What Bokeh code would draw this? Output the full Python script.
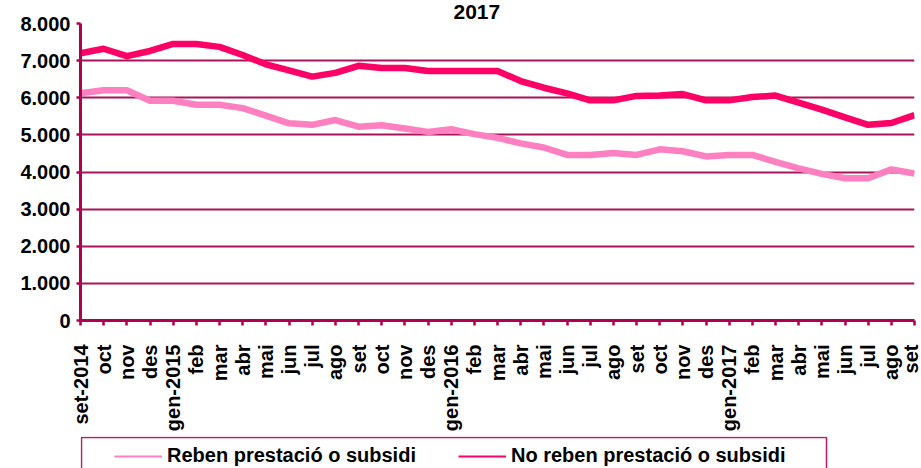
import math
from bokeh.plotting import figure
from bokeh.models import Range1d, FixedTicker, Legend, LegendItem, BoxAnnotation
from bokeh.layouts import column
from bokeh.embed import file_html
from bokeh.resources import INLINE

months = ["set-2014", "oct", "nov", "des", "gen-2015", "feb", "mar", "abr", "mai", "jun", "jul", "ago",
          "set", "oct", "nov", "des", "gen-2016", "feb", "mar", "abr", "mai", "jun", "jul", "ago",
          "set", "oct", "nov", "des", "gen-2017", "feb", "mar", "abr", "mai", "jun", "jul", "ago", "set"]
reben = [6120, 6200, 6200, 5920, 5920, 5810, 5810, 5720, 5520, 5310, 5270, 5400, 5220, 5260, 5170, 5080, 5150,
         5020, 4920, 4770, 4660, 4460, 4460, 4510, 4460, 4610, 4560, 4420, 4460, 4460, 4270, 4100, 3950, 3830,
         3830, 4070, 3960]
no_reben = [7200, 7320, 7120, 7260, 7450, 7450, 7370, 7150, 6900, 6740, 6570, 6670, 6860, 6800, 6800, 6720, 6720,
            6720, 6720, 6450, 6270, 6120, 5930, 5930, 6050, 6060, 6100, 5930, 5930, 6020, 6060, 5870, 5680, 5470,
            5270, 5320, 5530]
y_ticks = [0, 1000, 2000, 3000, 4000, 5000, 6000, 7000, 8000]
y_tick_labels = ["0", "1.000", "2.000", "3.000", "4.000", "5.000", "6.000", "7.000", "8.000"]
series_names = ["Reben prestació o subsidi", "No reben prestació o subsidi"]
title_text = "2017"

FONT = "Liberation Sans"
MAROON = "#B0004F"
GRID = "#A8145A"
LIGHT = "#FF80C0"
DARK = "#FF0066"

x = list(range(len(months)))

p = figure(width=921, height=436, x_range=Range1d(0, len(months) - 1), y_range=Range1d(0, 8000),
           output_backend="svg", toolbar_location=None, title=title_text,
           min_border_left=80, min_border_top=23, min_border_right=7, min_border_bottom=116)
p.outline_line_color = None
p.background_fill_color = "white"
p.border_fill_color = "white"

p.title.text_font = FONT
p.title.text_font_style = "bold"
p.title.text_font_size = "21px"
p.title.text_color = "black"
p.title.standoff = 5
p.title.align = "left"
p.title.offset = 373
p.title.vertical_align = "top"

p.xgrid.visible = False
p.ygrid.ticker = FixedTicker(ticks=y_ticks[1:])
p.ygrid.grid_line_color = GRID
p.ygrid.grid_line_width = 2

for ax in (p.xaxis[0], p.yaxis[0]):
    ax.axis_line_color = MAROON
    ax.axis_line_width = 3
    ax.major_tick_line_color = MAROON
    ax.major_tick_line_width = 2.5
    ax.major_tick_in = 0
    ax.minor_tick_line_color = None
    ax.major_label_text_font = FONT
    ax.major_label_text_font_style = "bold"
    ax.major_label_text_font_size = "20px"
    ax.major_label_text_color = "black"

p.xaxis.ticker = FixedTicker(ticks=x)
p.xaxis.major_label_overrides = {i: m for i, m in enumerate(months)}
p.xaxis.major_label_orientation = math.pi / 2
p.xaxis.major_tick_out = 5
p.xaxis.major_label_standoff = 19

p.yaxis.ticker = FixedTicker(ticks=y_ticks)
p.yaxis.major_label_overrides = {t: l for t, l in zip(y_ticks, y_tick_labels)}
p.yaxis.major_tick_out = 4
p.yaxis.major_label_standoff = 6

p.line(x, reben, line_color=LIGHT, line_width=6.5, line_join="round")
p.line(x, no_reben, line_color=DARK, line_width=6.5, line_join="round")

# legend strip below the chart; its frame is aligned with the main frame (page x 80..914),
# so 1 data unit = 1 px here
lf = figure(width=921, height=32, x_range=Range1d(80, 914), y_range=Range1d(0, 32),
            output_backend="svg", toolbar_location=None, x_axis_location=None, y_axis_location=None,
            min_border_left=80, min_border_right=7, min_border_top=0, min_border_bottom=0)
lf.outline_line_color = None
lf.grid.visible = False
lf.background_fill_color = "white"
lf.border_fill_color = "white"

# thin legend keys (the series fall outside this strip's range, so only the legend keys show)
lr1 = lf.line(x, reben, line_color=LIGHT, line_width=2)
lr2 = lf.line(x, no_reben, line_color=DARK, line_width=2)

lf.add_layout(BoxAnnotation(left=81, right=826, top=31, bottom=-10, fill_alpha=0,
                            line_color="#C01A62", line_alpha=1.0, line_width=1.5))

legend = Legend(items=[LegendItem(label=series_names[0], renderers=[lr1]),
                       LegendItem(label=series_names[1], renderers=[lr2])],
                orientation="horizontal", location=(34, 1), margin=0, padding=8,
                spacing=0, label_width=291, glyph_width=48, glyph_height=20, label_height=20,
                label_standoff=5, border_line_color=None, background_fill_alpha=0,
                label_text_font=FONT, label_text_font_style="bold", label_text_font_size="20px",
                label_text_color="black")
lf.add_layout(legend)

layout = column(p, lf, spacing=0)
open("out.html", "w").write(file_html(layout, INLINE))
